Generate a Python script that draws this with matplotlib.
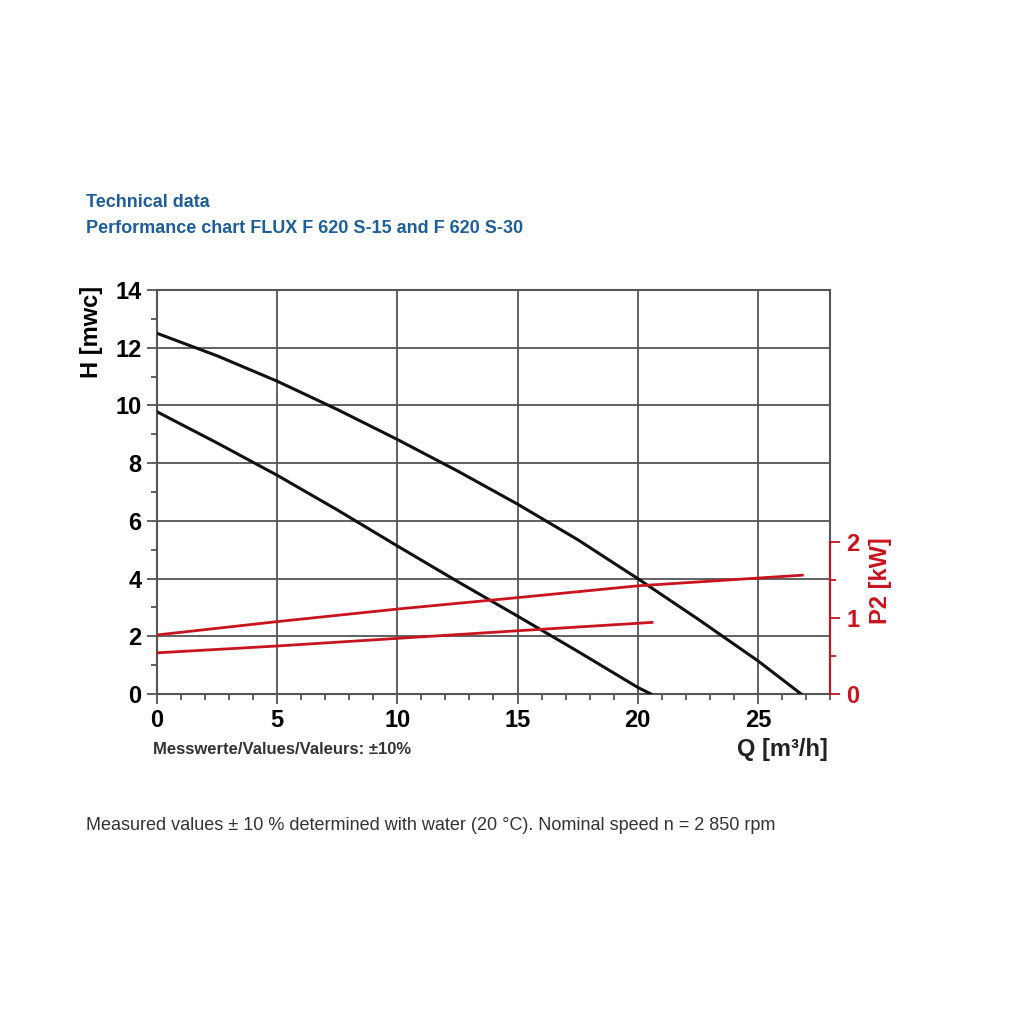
import matplotlib.pyplot as plt
from matplotlib.ticker import MultipleLocator, FixedLocator

plt.rcParams['font.family'] = ['Liberation Sans', 'DejaVu Sans']

# head curves H [mwc] vs Q [m3/h]
q_s30 = [0, 2.5, 5, 7.5, 10, 12.5, 15, 17.5, 20, 22.5, 25, 26.8]
h_s30 = [12.5, 11.72, 10.84, 9.86, 8.82, 7.73, 6.58, 5.35, 4.0, 2.6, 1.15, 0.0]
q_s15 = [0, 2.5, 5, 7.5, 10, 12.5, 15, 17.5, 20, 20.55]
h_s15 = [9.78, 8.7, 7.58, 6.38, 5.13, 3.9, 2.7, 1.48, 0.23, 0.0]

# power curves P2 [kW]
pq_s30 = [0, 5, 10, 15, 20, 26.85]
p_s30 = [0.775, 0.95, 1.115, 1.265, 1.42, 1.56]
pq_s15 = [0, 5, 10, 15, 20.6]
p_s15 = [0.54, 0.63, 0.73, 0.83, 0.94]

x_ticks = [0, 5, 10, 15, 20, 25]
y_ticks = [0, 2, 4, 6, 8, 10, 12, 14]
p_ticks = [0, 1, 2]
p_minor = [0.5, 1.5]

blue = '#1d5e9a'
red = '#c8141e'
grid_c = '#555555'

fig = plt.figure(figsize=(10.24, 10.24), dpi=100)
ax = fig.add_axes([0.1533, 0.3223, 0.6572, 0.3945])

ax.plot(q_s30, h_s30, color='#111111', lw=2.2, zorder=3)
ax.plot(q_s15, h_s15, color='#111111', lw=2.2, zorder=3)

ax.set_xlim(0, 28)
ax.set_ylim(0, 14)
ax.set_xticks(x_ticks)
ax.set_yticks(y_ticks)
ax.xaxis.set_minor_locator(MultipleLocator(1))
ax.yaxis.set_minor_locator(MultipleLocator(1))
ax.grid(True, which='major', color=grid_c, lw=1.3)
ax.tick_params(which='major', direction='out', length=7, width=1.3, color=grid_c,
               labelsize=17, pad=4)
ax.tick_params(which='minor', direction='out', length=4.5, width=1.3, color=grid_c)
for lab in ax.get_xticklabels() + ax.get_yticklabels():
    lab.set_fontweight('bold')
for s in ax.spines.values():
    s.set_color(grid_c)
    s.set_linewidth(1.5)
ax.set_ylabel('H [mwc]', fontsize=17, fontweight='bold')
ax.yaxis.set_label_coords(-0.080, 0.896)

# power axis
ax2 = ax.twinx()
ax2.plot(pq_s30, p_s30, color=red, lw=2.0, zorder=4)
ax2.plot(pq_s15, p_s15, color=red, lw=2.0, zorder=4)
ax2.set_ylim(0, 404 / 76.15)
ax2.yaxis.set_major_locator(FixedLocator(p_ticks))
ax2.yaxis.set_minor_locator(FixedLocator(p_minor))
ax2.spines['right'].set_bounds(0, 2)
ax2.spines['right'].set_color(red)
ax2.spines['right'].set_linewidth(1.5)
ax2.spines['right'].set_zorder(5)
for k in ['top', 'left', 'bottom']:
    ax2.spines[k].set_visible(False)
ax2.tick_params(which='major', direction='out', length=7, width=1.3, color=red,
                labelcolor=red, labelsize=17, pad=5)
ax2.tick_params(which='minor', direction='out', length=4.5, width=1.3, color=red)
for lab in ax2.get_yticklabels():
    lab.set_fontweight('bold')
ax2.set_ylabel('P2 [kW]', fontsize=17, fontweight='bold', color=red)
ax2.yaxis.set_label_coords(1.058, 0.28)

fig.text(0.084, 0.8027, 'Technical data', color=blue, fontsize=13,
         fontweight='bold', va='center')
fig.text(0.084, 0.7773, 'Performance chart FLUX F 620 S-15 and F 620 S-30',
         color=blue, fontsize=13, fontweight='bold', va='center')
fig.text(0.149, 0.2676, 'Messwerte/Values/Valeurs: \u00b110%', color='#333333',
         fontsize=12, fontweight='bold', va='center')
fig.text(0.8086, 0.2676, 'Q [m\u00b3/h]', color='#222222', fontsize=17,
         fontweight='bold', ha='right', va='center')
fig.text(0.084, 0.1943, 'Measured values \u00b1 10 % determined with water (20 \u00b0C). '
         'Nominal speed n = 2 850 rpm', color='#333333', fontsize=13, va='center')

fig.savefig('out.png', dpi=100, facecolor='white')
